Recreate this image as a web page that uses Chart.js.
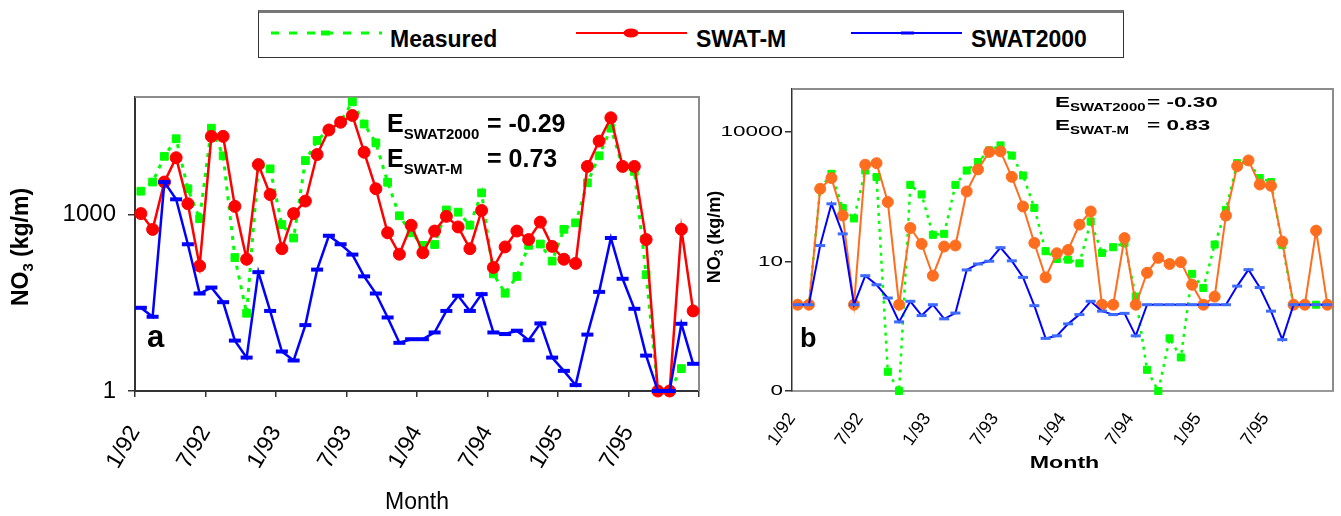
<!DOCTYPE html>
<html>
<head>
<meta charset="utf-8">
<script src="https://cdn.jsdelivr.net/npm/chart.js@4.4.1/dist/chart.umd.min.js"></script>
<style>
html,body{margin:0;padding:0;background:#fff;}
body{width:1341px;height:516px;position:relative;overflow:hidden;font-family:'Liberation Sans',Arial,sans-serif;}
#chartA{position:absolute;left:0;top:0;}
#chartB{position:absolute;left:700px;top:0;}
#legend{position:absolute;left:258px;top:10px;width:864px;height:44px;border:1.5px solid #333;border-top:3px solid #777;background:#fff;}
.lg{position:absolute;top:0;height:44px;}
.lg svg{position:absolute;left:0;top:10px;}
.lg span{position:absolute;top:13px;font-weight:bold;font-size:23px;line-height:26px;white-space:nowrap;color:#000;}
</style>
</head>
<body>
<canvas id="chartA" width="710" height="516"></canvas>
<canvas id="chartB" width="641" height="516"></canvas>
<div id="legend">
  <div class="lg" style="left:12px">
    <svg width="111" height="20"><line x1="0" y1="10" x2="111" y2="10" stroke="#00ff00" stroke-width="3" stroke-dasharray="8 10"/><rect x="50" y="7.5" width="9" height="5" fill="#00ff00"/></svg>
    <span style="left:119px">Measured</span>
  </div>
  <div class="lg" style="left:317px">
    <svg width="111" height="20"><line x1="0" y1="10" x2="111" y2="10" stroke="#ff0000" stroke-width="2"/><ellipse cx="55" cy="10" rx="7.5" ry="4.5" fill="#ff0000"/></svg>
    <span style="left:120px">SWAT-M</span>
  </div>
  <div class="lg" style="left:592px">
    <svg width="111" height="20"><line x1="0" y1="10" x2="111" y2="10" stroke="#0000ff" stroke-width="2"/><rect x="50" y="8.5" width="13" height="3" fill="#0000ff"/></svg>
    <span style="left:120px">SWAT2000</span>
  </div>
</div>
<script>
// month categories, Jan 1992 - Dec 1995
const months = ['1/92','2/92','3/92','4/92','5/92','6/92','7/92','8/92','9/92','10/92','11/92','12/92',
  '1/93','2/93','3/93','4/93','5/93','6/93','7/93','8/93','9/93','10/93','11/93','12/93',
  '1/94','2/94','3/94','4/94','5/94','6/94','7/94','8/94','9/94','10/94','11/94','12/94',
  '1/95','2/95','3/95','4/95','5/95','6/95','7/95','8/95','9/95','10/95','11/95','12/95'];
const tickLabels = ['1/92','7/92','1/93','7/93','1/94','7/94','1/95','7/95'];

// panel a (kg/m)
const measuredA = [2500,3580,9800,19500,2750,850,29500,10000,186,21,7000,6000,675,400,8300,18200,28000,38000,
  83000,34700,16600,3550,955,490,300,310,1200,1100,660,2340,98,46,89,300,316,162,562,724,3470,10000,29500,6450,
  5430,95,1,1,2.4,null];
const swatMA = [1040,560,3580,9270,1530,134,21400,21400,1380,174,7080,2190,263,1040,1700,10500,27500,37200,
  48500,11500,2750,490,212,660,224,525,933,617,263,1175,126,282,525,376,745,288,174,148,6600,17800,44300,6600,
  6600,376,1,1,562,23];
const swat2000A = [26,18.3,3580,1820,313,45.5,57.5,32.4,7.2,3.7,105,23,4.7,3.3,13.2,116,437,313,209,89,45.5,
  17.8,6.6,7.6,7.6,9.9,23,41.7,23,44.4,9.9,9.3,10.6,7.3,14.1,3.7,2.2,1.26,9.1,48.5,400,81,25,4,1,1,13.9,2.9];
const yTicksA = [1, 1000];

// panel b (kg/m)
const measuredB = [1,1,500,1080,174,100,1290,910,0.028,0.01,600,360,41.7,44,600,1290,2030,3780,4930,2870,990,
  176,17.4,11.5,11.1,9.1,85,15.9,21.5,27,1.54,0.031,0.01,0.166,0.06,5.2,2.45,24.8,158,1910,2090,861,695,24.4,1,1,1,1];
const swatMB = [1,1,486,861,117,1,1760,1910,240,1,60,25.7,4.7,22.3,23.6,422,1370,3470,3570,920,189,27,4.3,15.6,
  18.6,72,145,1,1,35,1,5.5,12.2,8.8,9.7,2.9,1,1.54,117,1630,2210,613,571,29,1,1,52,1];
const swat2000B = [1,1,23.5,218,43.8,1,4.7,2.9,1.43,0.4,1.2,0.56,1,0.47,0.64,6.4,8.8,10.2,21,10.4,4.3,0.95,0.166,
  0.19,0.36,0.59,1.2,0.71,0.59,0.63,0.19,1,1,1,1,1,1,1,1,2.7,6.5,2.5,0.71,0.155,1,1,1,1];
const yTicksB = [0.01, 10, 10000];

const FF = "'Liberation Sans', Arial, sans-serif";

// each month sits in the middle of its slot on the 0..48 axis
const pts = arr => arr.map((v, i) => ({x: i + 0.5, y: v, m: months[i]}));

// fixed axis band, no extra side padding from rotated labels
const fixX = h => s => { s.height = h; s.paddingLeft = 0; s.paddingRight = 0; };

function rich(ctx, x, y, runs, sx = 1){
  ctx.save();
  ctx.translate(x, y);
  ctx.scale(sx, 1);
  ctx.fillStyle = '#000';
  ctx.textAlign = 'left';
  ctx.textBaseline = 'alphabetic';
  let cx = 0;
  for (const r of runs){
    ctx.font = `bold ${r.size}px ${FF}`;
    ctx.fillText(r.text, cx, r.dy || 0);
    cx += ctx.measureText(r.text).width;
  }
  ctx.restore();
}

function yTitle(ctx, x, y, big, small){
  ctx.save();
  ctx.translate(x, y);
  ctx.rotate(-Math.PI / 2);
  ctx.fillStyle = '#000';
  ctx.textBaseline = 'middle';
  ctx.textAlign = 'left';
  ctx.font = `bold ${big}px ${FF}`;
  const w1 = ctx.measureText('NO').width, w3 = ctx.measureText(' (kg/m)').width;
  ctx.font = `bold ${small}px ${FF}`;
  const w2 = ctx.measureText('3').width;
  let s = -(w1 + w2 + w3) / 2;
  ctx.font = `bold ${big}px ${FF}`;
  ctx.fillText('NO', s, 0);
  ctx.font = `bold ${small}px ${FF}`;
  ctx.fillText('3', s + w1, big * 0.28);
  ctx.font = `bold ${big}px ${FF}`;
  ctx.fillText(' (kg/m)', s + w1 + w2, 0);
  ctx.restore();
}

const frame = {
  id: 'frame',
  beforeDatasetsDraw(chart){
    const {ctx, chartArea: a} = chart;
    ctx.save();
    ctx.strokeStyle = '#8c8c8c';
    ctx.lineWidth = 2;
    ctx.beginPath();
    ctx.moveTo(a.left, a.top); ctx.lineTo(a.right, a.top); ctx.lineTo(a.right, a.bottom);
    ctx.stroke();
    ctx.restore();
  }
};

const textA = {
  id: 'textA',
  afterDraw(chart){
    const {ctx, chartArea: a} = chart;
    yTitle(ctx, 22, (a.top + a.bottom) / 2 + 3, 23, 15);
    rich(ctx, a.left + 252, a.top + 35, [{text:'E', size:25}, {text:'SWAT2000', size:15, dy:7}]);
    rich(ctx, a.left + 352, a.top + 35, [{text:'= -0.29', size:25}]);
    rich(ctx, a.left + 252, a.top + 70, [{text:'E', size:25}, {text:'SWAT-M', size:15, dy:7}]);
    rich(ctx, a.left + 352, a.top + 70, [{text:'= 0.73', size:25}]);
    rich(ctx, a.left + 12, a.top + 250, [{text:'a', size:31}]);
  }
};

const textB = {
  id: 'textB',
  afterDraw(chart){
    const {ctx, chartArea: a} = chart;
    const ys = chart.scales.y;
    ctx.save();
    ctx.fillStyle = '#000';
    ctx.font = `15px ${FF}`;
    ctx.textAlign = 'right';
    ctx.textBaseline = 'middle';
    yTicksB.forEach(v => {
      ctx.save();
      ctx.translate(a.left - 9, ys.getPixelForValue(v));
      ctx.scale(1.5, 1);
      ctx.fillText(v < 1 ? '0' : String(v), 0, 0);
      ctx.restore();
    });
    ctx.save();
    ctx.translate((a.left + a.right) / 2 + 2, a.bottom + 73);
    ctx.scale(1.45, 1);
    ctx.font = `bold 16px ${FF}`;
    ctx.textAlign = 'center';
    ctx.fillText('Month', 0, 0);
    ctx.restore();
    ctx.restore();
    yTitle(ctx, 15, (a.top + a.bottom) / 2 - 3, 18, 12);
    rich(ctx, a.left + 263, a.top + 18, [{text:'E', size:15}, {text:'SWAT2000', size:10, dy:4}], 1.5);
    rich(ctx, a.left + 355, a.top + 18, [{text:'= -0.30', size:15}], 1.5);
    rich(ctx, a.left + 263, a.top + 41, [{text:'E', size:15}, {text:'SWAT-M', size:10, dy:4}], 1.5);
    rich(ctx, a.left + 355, a.top + 41, [{text:'= 0.83', size:15}], 1.5);
    rich(ctx, a.left + 8, a.top + 258, [{text:'b', size:27}]);
  }
};

new Chart(document.getElementById('chartA'), {
  type: 'line',
  data: { datasets: [
    { label:'Measured', data: pts(measuredA), borderColor:'#00ff00', backgroundColor:'#00ff00', borderWidth:3,
      borderDash:[4,6], pointStyle:'rect', pointRadius:5.5, pointBorderWidth:1, order:3, clip:false },
    { label:'SWAT-M', data: pts(swatMA), borderColor:'#ff0000', backgroundColor:'#ff0000', borderWidth:2.5,
      pointStyle:'circle', pointRadius:6, pointBorderWidth:1, order:2, clip:false },
    { label:'SWAT2000', data: pts(swat2000A), borderColor:'#0000ff', backgroundColor:'#0000ff', borderWidth:2.5,
      pointStyle:'line', pointRadius:6, pointBorderWidth:4, order:1, clip:false }
  ]},
  options: {
    responsive:false, animation:false, devicePixelRatio:1,
    layout:{padding:{top:97, right:11, left:0, bottom:0}},
    plugins:{legend:{display:false}, tooltip:{enabled:false}},
    scales:{
      x:{ type:'linear', min:0, max:48, afterFit: fixX(125),
        ticks:{stepSize:6, autoSkip:false, minRotation:60, maxRotation:60, padding:24, color:'#000',
          font:{family:FF, size:23}, callback: v => tickLabels[v / 6] ?? ''},
        grid:{drawOnChartArea:false, tickLength:6, color:'#333', lineWidth:1.5},
        border:{color:'#333', width:2},
        title:{display:true, text:'Month', color:'#000', font:{family:FF, size:23}, padding:0} },
      y:{ type:'logarithmic', min:1, max:1e5, afterFit: s => { s.width = 135; },
        afterBuildTicks: s => { s.ticks = yTicksA.map(v => ({value:v})); },
        ticks:{padding:12, color:'#000', font:{family:FF, size:24}, callback: v => String(v)},
        grid:{drawOnChartArea:false, tickLength:7, color:'#333', lineWidth:1.5},
        border:{color:'#333', width:2} }
    }
  },
  plugins:[frame, textA]
});

new Chart(document.getElementById('chartB'), {
  type: 'line',
  data: { datasets: [
    { label:'Measured', data: pts(measuredB), borderColor:'#00ff00', backgroundColor:'#00ff00', borderWidth:2.5,
      borderDash:[3,5], pointStyle:'rect', pointRadius:5, pointBorderWidth:1, order:3, clip:false },
    { label:'SWAT-M', data: pts(swatMB), borderColor:'#ff6d1f', backgroundColor:'#ff6d1f', borderWidth:2,
      pointStyle:'circle', pointRadius:5.5, pointBorderWidth:1, order:2, clip:false },
    { label:'SWAT2000', data: pts(swat2000B), borderColor:'#0000ff', backgroundColor:'#3d6bff',
      pointBorderColor:'#3d6bff', borderWidth:2, pointStyle:'line', pointRadius:5, pointBorderWidth:3, order:1, clip:false }
  ]},
  options: {
    responsive:false, animation:false, devicePixelRatio:1,
    layout:{padding:{top:89, right:5, left:0, bottom:0}},
    plugins:{legend:{display:false}, tooltip:{enabled:false}},
    scales:{
      x:{ type:'linear', min:0, max:48, afterFit: fixX(125),
        ticks:{stepSize:6, autoSkip:false, minRotation:55, maxRotation:55, padding:10, color:'#000',
          font:{family:FF, size:18}, callback: v => tickLabels[v / 6] ?? ''},
        grid:{display:false},
        border:{color:'#999', width:2} },
      y:{ type:'logarithmic', min:0.01, max:1e5, afterFit: s => { s.width = 92; },
        afterBuildTicks: s => { s.ticks = yTicksB.map(v => ({value:v})); },
        ticks:{display:false},
        grid:{drawOnChartArea:false, tickLength:7, color:'#333', lineWidth:1.5},
        border:{color:'#333', width:1.5} }
    }
  },
  plugins:[frame, textB]
});
</script>
</body>
</html>
